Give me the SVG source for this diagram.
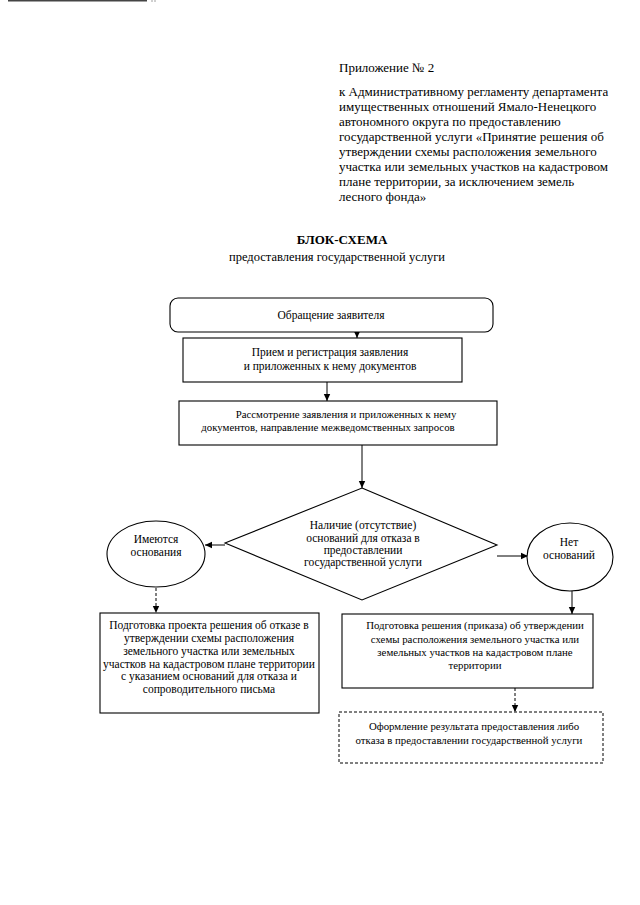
<svg xmlns="http://www.w3.org/2000/svg" width="640" height="905" viewBox="0 0 640 905">
<defs>
<marker id="ah" markerWidth="8" markerHeight="8" refX="7" refY="4" orient="auto" markerUnits="userSpaceOnUse">
<path d="M0,0.8 L7,4 L0,7.2 Z" fill="#000"/>
</marker>
<style>
text{font-family:"Liberation Serif","Times New Roman",serif;fill:#000}
.hd{font-size:13px}
.t{font-size:11.5px;text-anchor:middle}
.s{font-size:10.8px}
.ttl{font-size:13px;font-weight:bold;text-anchor:middle}
.sub{font-size:12.5px;text-anchor:middle}
.box{fill:#fff;stroke:#000;stroke-width:1.1}
.dbox{fill:#fff;stroke:#000;stroke-width:1;stroke-dasharray:3,2}
.c{fill:none;stroke:#000;stroke-width:1}
.cd{fill:none;stroke:#000;stroke-width:1;stroke-dasharray:3,2}
</style>
</defs>
<rect width="640" height="905" fill="#fff"/>
<line x1="8" y1="0.8" x2="147" y2="0.8" stroke="#444" stroke-width="1.6"/>
<line x1="152" y1="0" x2="152" y2="2" stroke="#888" stroke-width="0.8"/>
<line x1="155" y1="0" x2="155" y2="2" stroke="#888" stroke-width="0.8"/>

<g id="header">
<text class="hd" x="339" y="72">Приложение № 2</text>
<text class="hd" x="339" y="96">к Административному регламенту департамента</text>
<text class="hd" x="339" y="111">имущественных отношений Ямало-Ненецкого</text>
<text class="hd" x="339" y="126">автономного округа по предоставлению</text>
<text class="hd" x="339" y="141">государственной услуги «Принятие решения об</text>
<text class="hd" x="339" y="156">утверждении схемы расположения земельного</text>
<text class="hd" x="339" y="171">участка или земельных участков на кадастровом</text>
<text class="hd" x="339" y="186">плане территории, за исключением земель</text>
<text class="hd" x="339" y="201">лесного фонда»</text>
</g>
<g id="title">
<text class="ttl" x="342" y="244">БЛОК-СХЕМА</text>
<text class="sub" x="337" y="261">предоставления государственной услуги</text>
</g>

<g id="connectors">
<line class="c" x1="357" y1="332" x2="357" y2="338" marker-end="url(#ah)"/>
<line class="c" x1="327" y1="382" x2="327" y2="401" marker-end="url(#ah)"/>
<line class="c" x1="362" y1="445" x2="362" y2="488" marker-end="url(#ah)"/>
<line class="c" x1="225" y1="545" x2="205" y2="545" marker-end="url(#ah)"/>
<line class="c" x1="497" y1="556" x2="528" y2="556" marker-end="url(#ah)"/>
<line class="cd" x1="156" y1="588" x2="156" y2="613" marker-end="url(#ah)"/>
<line class="c" x1="572" y1="591" x2="572" y2="614" marker-end="url(#ah)"/>
<line class="cd" x1="515" y1="688" x2="515" y2="712" marker-end="url(#ah)"/>
</g>

<g id="n1">
<rect class="box" x="170" y="298" width="323" height="34" rx="8"/>
<text class="t" x="331" y="319">Обращение заявителя</text>
</g>
<g id="n2">
<rect class="box" x="183" y="338" width="279" height="44"/>
<text class="t" x="330" y="356">Прием и регистрация заявления</text>
<text class="t" x="330" y="370">и приложенных к нему документов</text>
</g>
<g id="n3">
<rect class="box" x="179" y="401" width="318" height="44"/>
<text class="t s" x="346" y="418">Рассмотрение заявления и приложенных к нему</text>
<text class="t s" x="328" y="431">документов, направление межведомственных запросов</text>
</g>
<g id="n4">
<polygon class="box" points="362,488 497,545 362,600 225,543"/>
<text class="t" x="363" y="529">Наличие (отсутствие)</text>
<text class="t" x="363" y="542">оснований для отказа в</text>
<text class="t" x="363" y="554">предоставлении</text>
<text class="t" x="363" y="566">государственной услуги</text>
</g>
<g id="n5">
<ellipse class="box" cx="156" cy="554" rx="49" ry="33"/>
<text class="t" x="156" y="543">Имеются</text>
<text class="t" x="156" y="556">основания</text>
</g>
<g id="n6">
<ellipse class="box" cx="570" cy="557" rx="43" ry="34"/>
<text class="t" x="569" y="546">Нет</text>
<text class="t" x="569" y="559">оснований</text>
</g>
<g id="n7">
<rect class="box" x="100" y="613" width="219" height="100"/>
<text class="t" x="209" y="629">Подготовка проекта решения об отказе в</text>
<text class="t" x="209" y="642">утверждении схемы расположения</text>
<text class="t" x="209" y="655">земельного участка или земельных</text>
<text class="t" x="209" y="668">участков на кадастровом плане территории</text>
<text class="t" x="209" y="680">с указанием оснований для отказа и</text>
<text class="t" x="209" y="693">сопроводительного письма</text>
</g>
<g id="n8">
<rect class="box" x="342" y="614" width="251" height="74"/>
<text class="t s" x="475" y="629">Подготовка решения (приказа) об утверждении</text>
<text class="t s" x="475" y="643">схемы расположения земельного участка или</text>
<text class="t s" x="475" y="656">земельных участков на кадастровом плане</text>
<text class="t s" x="475" y="669">территории</text>
</g>
<g id="n9">
<rect class="dbox" x="339" y="712" width="264" height="51"/>
<text class="t s" x="474" y="730">Оформление результата предоставления либо</text>
<text class="t s" x="469" y="744">отказа в предоставлении государственной услуги</text>
</g>
</svg>
